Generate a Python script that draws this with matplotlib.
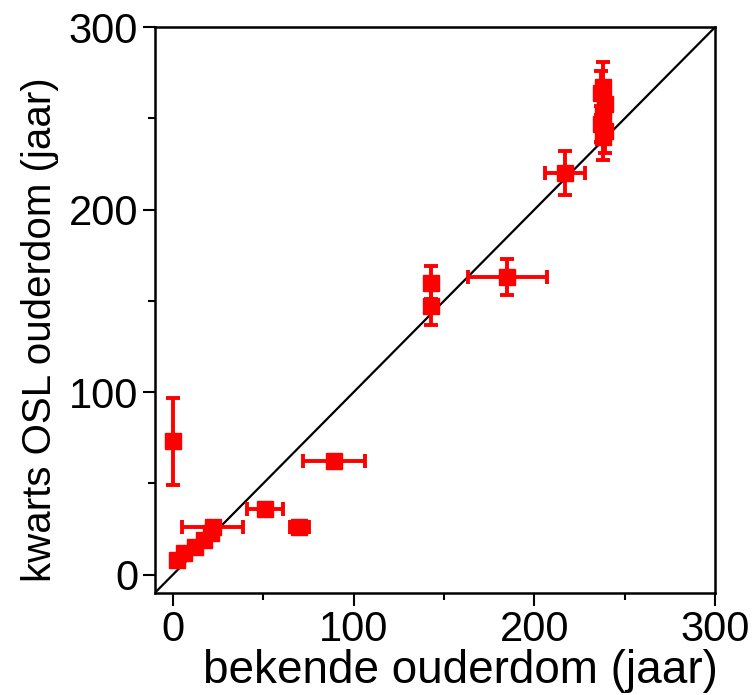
import numpy as np
import matplotlib.pyplot as plt
from matplotlib.ticker import MultipleLocator

plt.rcParams['font.family'] = ['Liberation Sans', 'DejaVu Sans']

# bekende ouderdom (x) en kwarts OSL ouderdom (y), met fouten
x_bekend = [0, 2, 6, 12, 17, 21, 22, 51, 70, 89, 143, 143, 185, 217,
            238, 237, 239, 238, 237, 239, 238]
x_fout = [0, 2, 2, 3, 3, 3, 17, 10, 5, 17, 1, 1, 22, 11,
          2, 2, 2, 2, 2, 2, 2]
y_osl = [73, 8, 12, 15, 19, 23, 26, 36, 26, 62, 160, 147, 163, 220,
         267, 264, 258, 252, 247, 243, 240]
y_fout = [24, 3, 3, 3, 3, 3, 3, 3, 3, 3, 9, 10, 10, 12,
          14, 12, 10, 10, 10, 12, 13]

fig = plt.figure(figsize=(7.52, 6.95), dpi=100)
ax = fig.add_axes([0.206, 0.147, 0.745, 0.814])

ax.plot([-10, 300], [-10, 300], color='black', linewidth=1.6, zorder=1)
ax.errorbar(x_bekend, y_osl, xerr=x_fout, yerr=y_fout, fmt='s', color='red',
            markersize=11, elinewidth=2.8, capsize=5, capthick=2.8, zorder=2)

ax.set_xlim(-10, 300)
ax.set_ylim(-10, 300)
ax.xaxis.set_major_locator(MultipleLocator(100))
ax.xaxis.set_minor_locator(MultipleLocator(50))
ax.yaxis.set_major_locator(MultipleLocator(100))
ax.yaxis.set_minor_locator(MultipleLocator(50))
ax.tick_params(which='major', direction='out', length=9, width=1.5,
               labelsize=30, pad=3)
ax.tick_params(which='minor', direction='out', length=5, width=1.5)
for s in ax.spines.values():
    s.set_linewidth(1.8)

ax.set_xlabel('bekende ouderdom (jaar)', fontsize=33, labelpad=0)
ax.xaxis.set_label_coords(0.545, -0.1)
ax.set_ylabel('kwarts OSL ouderdom (jaar)', fontsize=29, labelpad=4)
ax.yaxis.set_label_coords(-0.172, 0.465)

fig.savefig('out.png', dpi=100)
